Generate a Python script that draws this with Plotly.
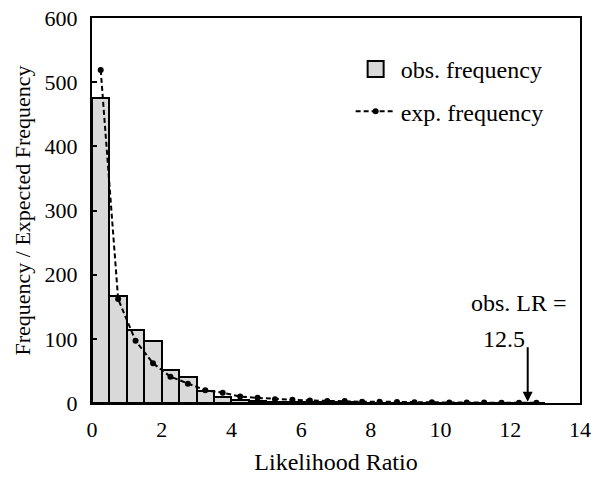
import plotly.graph_objects as go

bin_centers = [0.25 + 0.5 * i for i in range(26)]
obs_freq = [476, 167, 114, 97, 51, 40, 19, 10, 5, 3, 2, 2, 1, 1, 1, 0.5, 0.5, 0, 0, 0, 0, 0, 0, 0, 0, 0]
exp_freq = [519, 162, 97, 62, 41, 30, 20, 16, 10, 8, 6, 5, 4, 3, 3, 2, 2, 1.5, 1.2, 1, 0.8, 0.7, 0.6, 0.5, 0.4, 0.3]
obs_lr = 12.5

FONT = "Liberation Serif"
BAR_FILL = "#d9d9d9"

fig = go.Figure()
fig.add_trace(go.Bar(
    x=bin_centers, y=obs_freq, width=0.5, name="obs. frequency", showlegend=False,
    marker=dict(color=BAR_FILL, line=dict(color="black", width=2)),
))
# legend entry for bars (larger swatch)
fig.add_trace(go.Scatter(
    x=[None], y=[None], mode="markers", name="obs. frequency", legendgroup="obs",
    marker=dict(symbol="square", size=28, color=BAR_FILL, line=dict(color="black", width=2)),
))
fig.add_trace(go.Scatter(
    x=bin_centers, y=exp_freq, mode="lines+markers", name="exp. frequency", legendgroup="exp",
    line=dict(color="black", width=2, dash="5px,3px"),
    marker=dict(color="black", size=6),
))

fig.add_annotation(x=obs_lr, y=2, xref="x", yref="y", text="", showarrow=True,
                   ax=0, ay=-56, arrowhead=2, arrowsize=1, arrowwidth=2, arrowcolor="black")
fig.add_annotation(x=12.25, y=156, xref="x", yref="y", text="obs. LR =", showarrow=False,
                   font=dict(family=FONT, size=24, color="black"))
fig.add_annotation(x=11.82, y=100, xref="x", yref="y", text="12.5", showarrow=False,
                   font=dict(family=FONT, size=24, color="black"))

fig.update_layout(
    width=594, height=478,
    margin=dict(l=92, r=14, t=18, b=75),
    plot_bgcolor="white", paper_bgcolor="white",
    font=dict(family=FONT, size=22, color="black"),
    bargap=0,
    showlegend=True,
    legend=dict(x=0.53, y=0.925, xanchor="left", yanchor="top", bgcolor="rgba(0,0,0,0)",
                font=dict(family=FONT, size=24), itemwidth=40, tracegroupgap=8),
    xaxis=dict(range=[0, 14], dtick=2, showline=True, linecolor="black", linewidth=2,
               mirror=True, showgrid=False, zeroline=False, ticks="", automargin=False,
               ticklabelstandoff=6,
               title=dict(text="Likelihood Ratio", standoff=12,
                          font=dict(family=FONT, size=24, color="black"))),
    yaxis=dict(range=[0, 600], dtick=100, showline=True, linecolor="black", linewidth=2,
               mirror=True, showgrid=False, zeroline=False, ticks="inside", ticklen=5,
               tickcolor="black", tickwidth=1.5, automargin=False, ticklabelstandoff=8,
               title=dict(text="Frequency / Expected Frequency", standoff=8,
                          font=dict(family=FONT, size=22, color="black"))),
)

fig.write_html("out.html", config={"displayModeBar": False},
               post_script="document.body.style.margin='0px';")
